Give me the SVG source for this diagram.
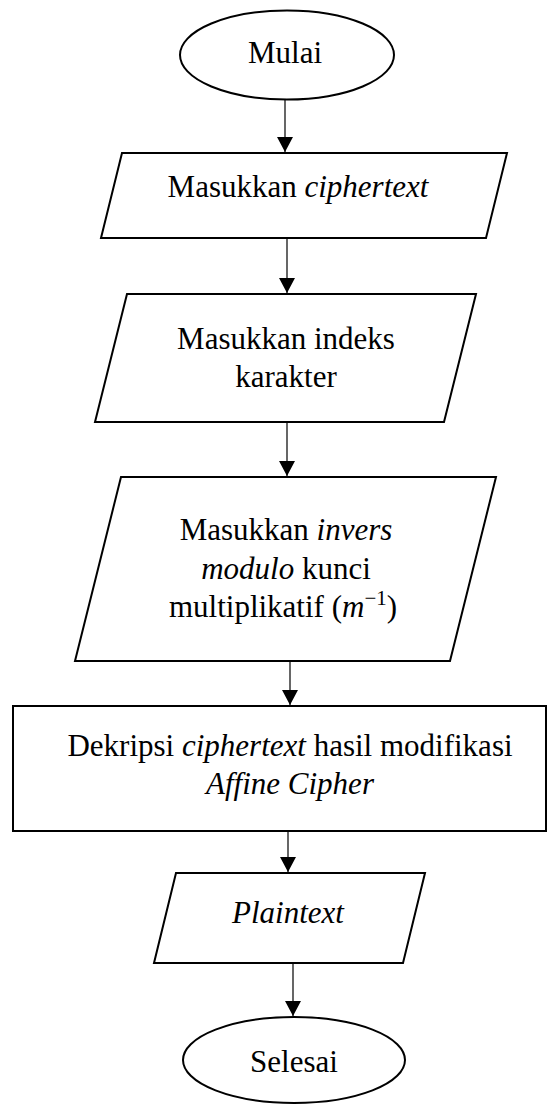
<svg xmlns="http://www.w3.org/2000/svg" width="558" height="1104" viewBox="0 0 558 1104">
<style>
.shape{fill:#fff;stroke:#000;stroke-width:2}
.conn{stroke:#000;stroke-width:1.2;fill:none;marker-end:url(#arr)}
.t{font-family:'Liberation Serif','Tinos','DejaVu Serif','Times New Roman',serif;font-size:31px;fill:#000;text-anchor:middle}
.i{font-style:italic}
</style>
<defs>
<marker id="arr" markerUnits="userSpaceOnUse" markerWidth="16" markerHeight="17" refX="15" refY="8" orient="auto">
<path d="M0,0 L15,8 L0,16 Z" fill="#000"/>
</marker>
</defs>
<g id="connectors">
<line class="conn" x1="285" y1="100" x2="285" y2="152"/>
<line class="conn" x1="287" y1="238" x2="287" y2="293"/>
<line class="conn" x1="287" y1="422" x2="287" y2="476"/>
<line class="conn" x1="290" y1="661" x2="290" y2="705"/>
<line class="conn" x1="288" y1="831" x2="288" y2="872"/>
<line class="conn" x1="293" y1="963" x2="293" y2="1016"/>
</g>
<g font-family="Liberation Serif, Times New Roman, serif">
<g id="start">
<ellipse class="shape" cx="287" cy="55" rx="107" ry="44.5"/>
<text class="t" x="285" y="63">Mulai</text>
</g>
<g id="input-ciphertext">
<polygon class="shape" points="122,153 507,153 486,238 101,238"/>
<text class="t" x="298" y="197">Masukkan <tspan class="i">ciphertext</tspan></text>
</g>
<g id="input-indeks">
<polygon class="shape" points="127,294 476,294 444,422 95,422"/>
<text class="t" x="286" y="349">Masukkan indeks</text>
<text class="t" x="286" y="387">karakter</text>
</g>
<g id="input-invers">
<polygon class="shape" points="121,477 496,477 450,661 75,661"/>
<text class="t" x="286" y="540">Masukkan <tspan class="i">invers</tspan></text>
<text class="t" x="286" y="579"><tspan class="i">modulo</tspan> kunci</text>
<text class="t" x="283" y="617">multiplikatif (<tspan class="i">m</tspan><tspan font-size="21" dy="-12">−1</tspan><tspan dy="12">)</tspan></text>
</g>
<g id="dekripsi">
<rect class="shape" x="13" y="706" width="533" height="125"/>
<text class="t" x="290" y="756">Dekripsi <tspan class="i">ciphertext</tspan> hasil modifikasi</text>
<text class="t i" x="290" y="794">Affine Cipher</text>
</g>
<g id="output-plaintext">
<polygon class="shape" points="176,873 425,873 403,963 154,963"/>
<text class="t i" x="288" y="923">Plaintext</text>
</g>
<g id="end">
<ellipse class="shape" cx="294" cy="1060" rx="111" ry="43"/>
<text class="t" x="294" y="1072">Selesai</text>
</g>
</g>
</svg>
